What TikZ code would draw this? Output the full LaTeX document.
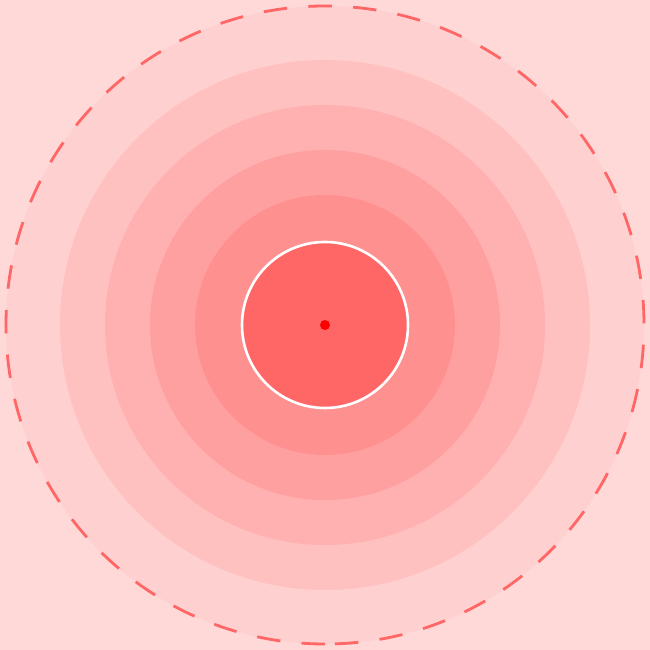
\documentclass[tikz,border=0pt]{standalone}
\usepackage{tikz}
\usetikzlibrary{calc}
\definecolor{Paper}{HTML}{FFD8D8}
\definecolor{RingA}{HTML}{FFD0D0}
\definecolor{RingB}{HTML}{FFC0C0}
\definecolor{RingC}{HTML}{FFB0B0}
\definecolor{RingD}{HTML}{FFA0A0}
\definecolor{RingE}{HTML}{FF9090}
\definecolor{Core}{HTML}{FF6666}
\definecolor{Dot}{HTML}{FF0000}
\tikzset{
  ring/.style={fill=#1,draw=none},
  limitline/.style={draw=Core,line width=2.8pt,dash pattern=on 23.5pt off 21.3pt},
  corebox/.style={fill=Core,draw=white,line width=2.6pt},
  centerdot/.style={fill=Dot,draw=none}
}

\begin{document}
\begin{tikzpicture}[x=1pt,y=1pt]
  % page
  \fill[Paper] (0,0) rectangle (650,650);
  \useasboundingbox (0,0) rectangle (650,650);
  \coordinate (center) at (325,325);

  % outer limit
  \fill[RingA] (center) circle (319);
  \draw[limitline] (center) ++(270:319) arc[start angle=270,end angle=-90,radius=319];

  % rings
  \foreach \r/\c in {265/RingB,220/RingC,175/RingD,130/RingE}
    \fill[ring=\c] (center) circle (\r);

  % core
  \draw[corebox] (center) circle (83);
  \fill[centerdot] (center) circle (5);
\end{tikzpicture}
\end{document}
